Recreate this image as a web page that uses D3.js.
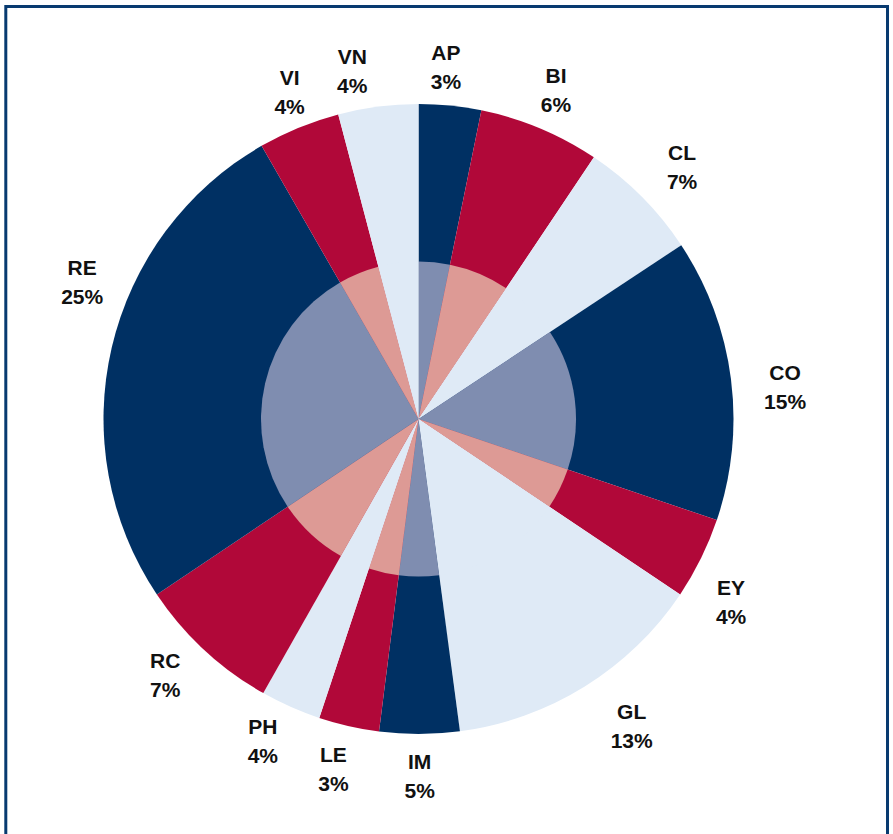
<!DOCTYPE html>
<html>
<head>
<meta charset="utf-8">
<script src="https://cdn.jsdelivr.net/npm/d3@7"></script>
<style>
  html, body { margin: 0; padding: 0; background: #fff; }
  svg { display: block; }
  .lbl { font-family: "Liberation Sans", Arial, sans-serif; font-weight: bold; font-size: 21px; fill: #111; }
</style>
</head>
<body>
<div id="chart"></div>
<script>
// Data
const categories = ["AP", "BI", "CL", "CO", "EY", "GL", "IM", "LE", "PH", "RC", "RE", "VI", "VN"];
// slice sizes (share of the circle, %)
const shares = [3.2, 6.2, 6.3, 14.5, 4.2, 13.5, 4.1, 3.1, 3.1, 7.4, 26.1, 4.2, 4.1];
// percentages printed on the labels
const pctShown = [3, 6, 7, 15, 4, 13, 5, 3, 4, 7, 25, 4, 4];
// colour group of each slice
const tier = [1, 2, 3, 1, 2, 3, 1, 2, 3, 2, 1, 2, 3];

const width = 893;
const height = 834;
const cx = 418.5, cy = 419;
const R = 315;
const rInner = 157.5;

const outerColor = d3.scaleOrdinal().domain([1, 2, 3]).range(["#003063", "#b10839", "#dfeaf6"]);
const innerColor = d3.scaleOrdinal().domain([1, 2, 3]).range(["#7f8db0", "#dd9a95", "#dfeaf6"]);

// labels were dragged a little in the original: [degrees, px]
const labelNudge = {
    AP: [-1.3, 0], CL: [1.1, 4], CO: [2.4, 4], EY: [4.1, 0], GL: [-2.9, 15],
    IM: [0, 5], LE: [0.9, 5], PH: [1.9, 0], RC: [1.8, 0], RE: [9, 0],
    VI: [0.8, -5], VN: [-3.4, 0]
};

const rows = categories.map((c, i) => ({ cat: c, share: shares[i], pct: pctShown[i], tier: tier[i] }));

const svg = d3.select("#chart").append("svg")
    .attr("width", width)
    .attr("height", height);

// frame
svg.append("rect")
    .attr("x", 5.8).attr("y", 6.5)
    .attr("width", 887.5 - 5.8).attr("height", 850)
    .attr("fill", "none")
    .attr("stroke", "#083a70")
    .attr("stroke-width", 3);

const pie = d3.pie().sort(null).value(d => d.share);
const arcs = pie(rows);

const g = svg.append("g").attr("transform", `translate(${cx},${cy})`);

const outerArc = d3.arc().innerRadius(0).outerRadius(R);
const innerArc = d3.arc().innerRadius(0).outerRadius(rInner);

g.selectAll(".outer")
  .data(arcs)
  .join("path")
    .attr("class", "outer")
    .attr("d", outerArc)
    .attr("fill", d => outerColor(d.data.tier));

g.selectAll(".inner")
  .data(arcs)
  .join("path")
    .attr("class", "inner")
    .attr("d", innerArc)
    .attr("fill", d => innerColor(d.data.tier));

// labels outside the pie
const pctFmt = d => d + "%";
const lbl = g.selectAll(".lbl")
  .data(arcs)
  .join("text")
    .attr("class", "lbl")
    .attr("text-anchor", "middle")
    .each(function(d) {
        const [da, dr] = labelNudge[d.data.cat] || [0, 0];
        const a = (d.startAngle + d.endAngle) / 2 + da * Math.PI / 180;
        const r = 352 + 12 * Math.abs(Math.sin(a)) + dr;
        d.lx = r * Math.sin(a);
        d.ly = -r * Math.cos(a);
    });

lbl.append("tspan")
    .attr("x", d => d.lx)
    .attr("y", d => d.ly - 7)
    .text(d => d.data.cat);

lbl.append("tspan")
    .attr("x", d => d.lx)
    .attr("y", d => d.ly + 22)
    .text(d => pctFmt(d.data.pct));
</script>
</body>
</html>
